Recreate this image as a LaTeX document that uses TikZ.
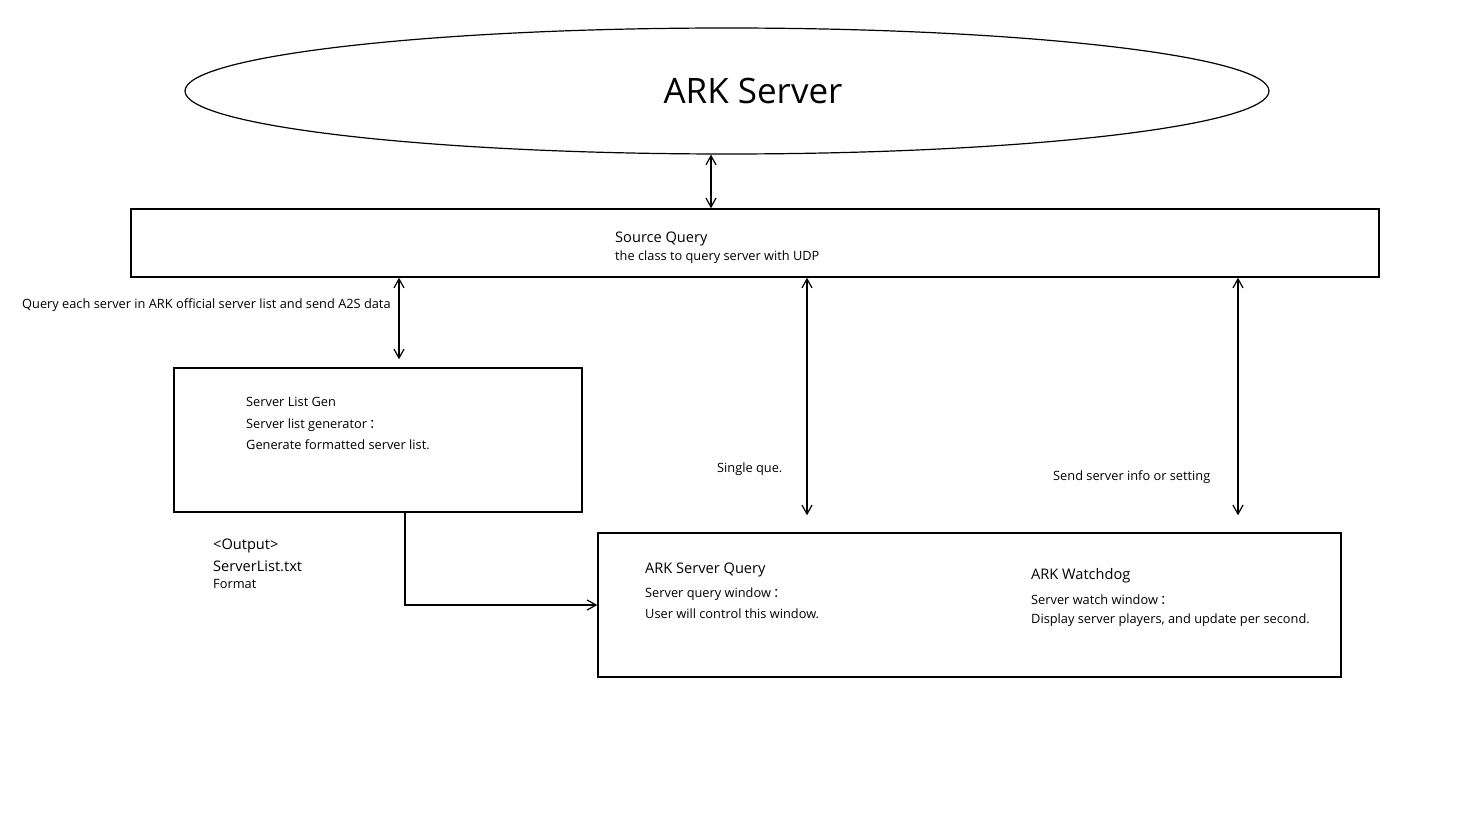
\documentclass[tikz,border=0pt]{standalone}
\usepackage{fontspec}
\setmainfont{Open Sans}
\newfontfamily\cjk{Noto Sans CJK SC}
\usetikzlibrary{arrows.meta}
\usetikzlibrary{positioning}
\usetikzlibrary{shapes.geometric}

\newcommand{\fwcolon}{{\cjk ：}}

\begin{document}
\begin{tikzpicture}[x=1pt,y=-1pt]
% 1 = 1px of the sketch
    \def\BOXLW{1.4pt}
    \def\TXTSIZE{\fontsize{12.8}{15}\selectfont}
    \def\HEADSIZE{\fontsize{14.6}{17}\selectfont}

    \tikzset{
      box/.style={draw,line width=\BOXLW,inner sep=0pt},
      dbl/.style={{Straight Barb[length=9pt,width=10pt]}-{Straight Barb[length=9pt,width=10pt]},line width=1.2pt},
      single/.style={-{Straight Barb[length=9pt,width=10pt]},line width=1.2pt},
      txt/.style={anchor=west,inner sep=0pt,font=\TXTSIZE},
      head/.style={anchor=west,inner sep=0pt,font=\HEADSIZE},
    }

    \useasboundingbox (0,0) rectangle (1481,834);

    % ARK SERVER
    \node[draw,ellipse,line width=1.2pt,minimum width=1084pt,minimum height=126pt]
        (arkserver) at (727,91) {};
    \node[inner sep=0pt,font=\fontsize{35}{40}\selectfont] (arklabel) at (753,91) {ARK Server};

    % SOURCE QUERY
    \node[box,minimum width=1248pt,minimum height=68pt] (srcquery) at (755,243) {};
    \node[head] (srctitle) at (615,239) {Source Query};
    \node[txt] (srcdesc) at (615,257) {the class to query server with UDP};

    % SERVER LIST GEN
    \node[box,minimum width=408pt,minimum height=144pt] (listgen) at (378,440) {};
    \node[txt] (gentitle) at (246,402) {Server List Gen};
    \node[txt] (gendesc) at (246,425) {Server list generator\,\fwcolon};
    \node[txt] (genmore) at (246,445) {Generate formatted server list.};

    % WINDOWS
    \node[box,minimum width=743pt,minimum height=144pt] (querywin) at (969.5,605) {};
    \node[head] (qtitle) at (645,570) {ARK Server Query};
    \node[txt] (qdesc) at (645,594) {Server query window\,\fwcolon};
    \node[txt] (qmore) at (645,614) {User will control this window.};
    \node[head] (wtitle) at (1031,576) {ARK Watchdog};
    \node[txt] (wdesc) at (1031,600) {Server watch window\,\fwcolon};
    \node[txt] (wmore) at (1031,620) {Display server players, and update per second.};

    % OUTPUT FILE
    \node[head] (outtag) at (213,546) {<Output>};
    \node[head] (outfile) at (213,566) {ServerList.txt};
    \node[txt] (outfmt) at (213,584) {Format};

    % CONNECTORS
    \draw[dbl] ([xshift=-16pt]arkserver.south)
        -- ([xshift=-16pt]arkserver.south |- srcquery.north);
    \draw[dbl] ([xshift=21pt]listgen.north |- srcquery.south)
        -- ([xshift=21pt,yshift=8pt]listgen.north);
    \draw[dbl] ([xshift=-162.5pt]querywin.north |- srcquery.south)
        -- ([xshift=-162.5pt,yshift=17pt]querywin.north);
    \draw[dbl] ([xshift=268.5pt]querywin.north |- srcquery.south)
        -- ([xshift=268.5pt,yshift=17pt]querywin.north);
    \draw[single] ([xshift=27pt]listgen.south) |- (querywin.west);

    % LABELS
    \node[txt] (a2slabel) at (22,305) {Query each server in ARK official server list and send A2S data};
    \node[txt] (singlelabel) at (717,469) {Single que.};
    \node[txt] (sendlabel) at (1053,477) {Send server info or setting};

\end{tikzpicture}
\end{document}
